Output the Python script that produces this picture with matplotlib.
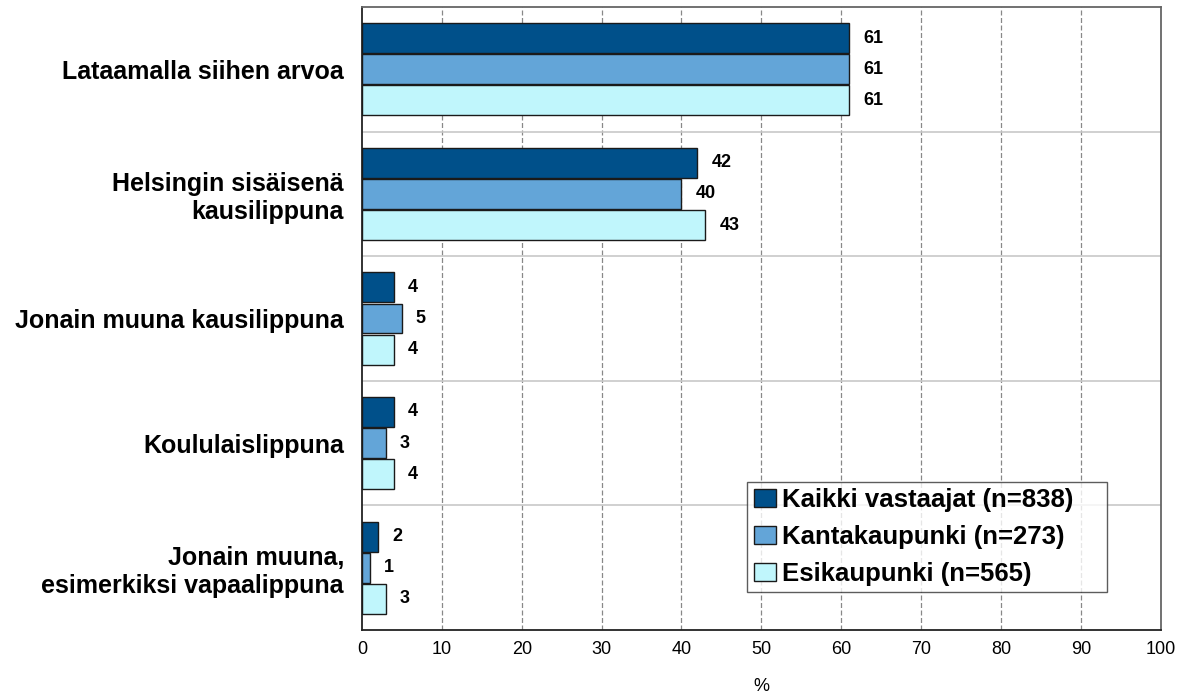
import numpy as np
import matplotlib.pyplot as plt

plt.rcParams['font.family'] = ['Liberation Sans', 'DejaVu Sans']

# Kysymyksen vastausvaihtoehdot ja osuudet (%)
kategoriat = ["Lataamalla siihen arvoa",
              "Helsingin sisäisenä\nkausilippuna",
              "Jonain muuna kausilippuna",
              "Koululaislippuna",
              "Jonain muuna,\nesimerkiksi vapaalippuna"]
kaikki = [61, 42, 4, 4, 2]
kantakaupunki = [61, 40, 5, 3, 1]
esikaupunki = [61, 43, 4, 4, 3]

sarjat = ["Kaikki vastaajat (n=838)", "Kantakaupunki (n=273)", "Esikaupunki (n=565)"]
varit = ["#00508A", "#63A5D8", "#C0F6FC"]
arvot = [kaikki, kantakaupunki, esikaupunki]

fig = plt.figure(figsize=(11.85, 6.97), dpi=100)
ax = fig.add_axes([0.3055, 0.096, 0.674, 0.894])

y = np.arange(len(kategoriat))
korkeus = 0.24
siirto = 0.25

for i, (nimi, vari, data) in enumerate(zip(sarjat, varit, arvot)):
    pos = y + (i - 1) * siirto
    ax.barh(pos, data, height=korkeus, color=vari, edgecolor="#1a1a1a",
            linewidth=1.0, label=nimi, zorder=3)
    for yy, v in zip(pos, data):
        ax.annotate(str(v), (v, yy), xytext=(10, 0), textcoords="offset points",
                    ha="left", va="center", fontsize=13, fontweight="bold")

ax.set_xlim(0, 100)
ax.set_ylim(len(kategoriat) - 0.5, -0.5)
ax.set_xticks(range(0, 101, 10))
ax.tick_params(axis="x", labelsize=13, length=0, pad=8)
ax.set_yticks(y)
ax.set_yticklabels(kategoriat, fontsize=18, fontweight="bold", ha="right",
                   multialignment="right")
ax.tick_params(axis="y", length=0, pad=13)
ax.set_xlabel("%", fontsize=13, labelpad=14)

# pystysuorat apuviivat ja vaakasuorat erottimet
for x in range(10, 100, 10):
    ax.axvline(x, color="#888888", linestyle=(0, (4, 2)), linewidth=0.9, zorder=1)
for b in np.arange(0.5, len(kategoriat) - 0.5, 1):
    ax.axhline(b, color="#c8c8c8", linewidth=1.2, zorder=1)

ax.spines["left"].set_color("#222222")
ax.spines["bottom"].set_color("#222222")
ax.spines["top"].set_color("#666666")
ax.spines["right"].set_color("#666666")
for s in ax.spines.values():
    s.set_linewidth(1.3)

leg = ax.legend(loc="lower left", bbox_to_anchor=(0.4825, 0.061, 0.45, 0.3),
                mode="expand",
                prop={"weight": "bold", "size": 18.5}, frameon=True, fancybox=False,
                edgecolor="#333333", handlelength=0.85, handleheight=0.7,
                handletextpad=0.25, borderpad=0.25, labelspacing=0.5,
                borderaxespad=0)
leg.get_frame().set_linewidth(1.0)

fig.savefig("out.png", dpi=100)
